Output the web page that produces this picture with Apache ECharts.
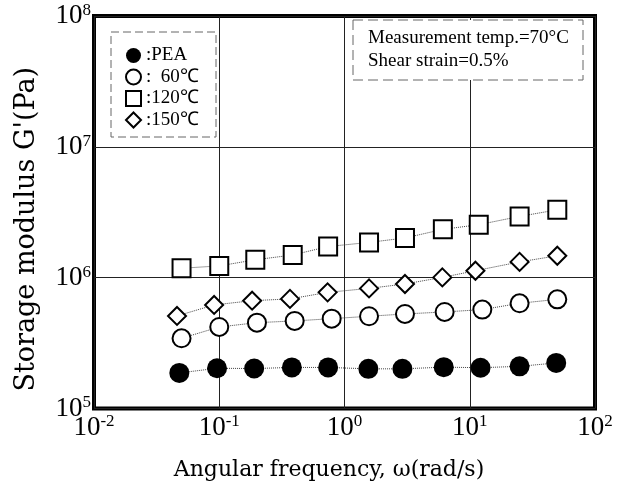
<!DOCTYPE html>
<html>
<head>
<meta charset="utf-8">
<script src="https://cdn.jsdelivr.net/npm/echarts@6/dist/echarts.min.js"></script>
<style>
html, body { margin: 0; padding: 0; background: #fff; }
#chart { width: 617px; height: 488px; }
</style>
</head>
<body>
<div id="chart"></div>
<script>
// 角频率 (rad/s) 与储能模量 G' (Pa)，各系列点位略有偏差，分开记录
const peaX = [0.048, 0.096, 0.19, 0.38, 0.74, 1.55, 2.9, 6.2, 12.2, 25, 49]
const peaY = [1.87e5, 2.03e5, 2.02e5, 2.06e5, 2.06e5, 2.01e5, 2.01e5, 2.07e5, 2.05e5, 2.10e5, 2.23e5]
const t60X = [0.05, 0.1, 0.2, 0.4, 0.79, 1.57, 3.04, 6.3, 12.6, 25, 50]
const t60Y = [3.44e5, 4.2e5, 4.53e5, 4.67e5, 4.86e5, 5.07e5, 5.28e5, 5.47e5, 5.7e5, 6.37e5, 6.83e5]
const t120X = [0.05, 0.1, 0.194, 0.386, 0.74, 1.57, 3.04, 6.1, 11.8, 25, 50]
const t120Y = [1.18e6, 1.23e6, 1.37e6, 1.49e6, 1.73e6, 1.86e6, 2.01e6, 2.34e6, 2.54e6, 2.94e6, 3.3e6]
const t150X = [0.046, 0.091, 0.183, 0.367, 0.733, 1.57, 3.04, 6.04, 11.1, 25, 50]
const t150Y = [5.1e5, 6.19e5, 6.67e5, 6.88e5, 7.72e5, 8.28e5, 8.95e5, 1.005e6, 1.13e6, 1.32e6, 1.47e6]

// 刻度标签（10 的指数）
const xExps = [-2, -1, 0, 1, 2]
const yExps = [5, 6, 7, 8]

const seriesNames = ['PEA', '60℃', '120℃', '150℃']
const noteLines = ['Measurement temp.=70°C', 'Shear strain=0.5%']

const serif = '"Liberation Serif", "Times New Roman", serif'
const wideSerif = '"DejaVu Serif", serif'

const tickRich = {
  b: { fontFamily: serif, fontSize: 27, lineHeight: 28, color: '#000' },
  s: { fontFamily: serif, fontSize: 17, lineHeight: 17, color: '#000', verticalAlign: 'top' }
}

function expLabel(exps) {
  return v => {
    const e = Math.round(Math.log10(v))
    if (!exps.includes(e)) return ''
    return '{b|10}{s|' + e + '}'
  }
}

function mk(name, xs, ys, symbol, size, fill, border) {
  return {
    name,
    type: 'line',
    data: xs.map((x, i) => [x, ys[i]]),
    symbol,
    symbolSize: size,
    showAllSymbol: true,
    itemStyle: { color: fill, borderColor: '#000', borderWidth: border, opacity: 1 },
    lineStyle: { color: '#444', width: 1, type: 'dotted' },
    emphasis: { disabled: true }
  }
}

const chart = echarts.init(document.getElementById('chart'))
chart.setOption({
  animation: false,
  backgroundColor: '#fff',
  grid: {
    left: 94, right: 22, top: 16, bottom: 79.5,
    show: true, borderColor: '#000', borderWidth: 4, backgroundColor: 'transparent',
    outerBoundsMode: 'none'
  },
  xAxis: {
    type: 'log', logBase: 10, min: 0.01, max: 100,
    name: 'Angular frequency, ω(rad/s)',
    nameLocation: 'middle', nameGap: 51,
    nameTextStyle: { fontFamily: wideSerif, fontSize: 22, color: '#000', padding: [0, 31, 0, 0] },
    axisLine: { show: false }, axisTick: { show: false },
    minorTick: { show: false }, minorSplitLine: { show: false },
    splitLine: { show: true, lineStyle: { color: '#222', width: 1 } },
    axisLabel: {
      margin: 5, showMinLabel: true, showMaxLabel: true, hideOverlap: false,
      formatter: expLabel(xExps), rich: tickRich
    }
  },
  yAxis: {
    type: 'log', logBase: 10, min: 1e5, max: 1e8,
    name: "Storage modulus G'(Pa)",
    nameLocation: 'middle', nameGap: 54,
    nameTextStyle: { fontFamily: wideSerif, fontSize: 27, color: '#000', padding: [0, 34, 0, 0] },
    axisLine: { show: false }, axisTick: { show: false },
    minorTick: { show: false }, minorSplitLine: { show: false },
    splitLine: { show: true, lineStyle: { color: '#222', width: 1 } },
    axisLabel: {
      margin: 3, showMinLabel: true, showMaxLabel: true, hideOverlap: false,
      formatter: expLabel(yExps), rich: tickRich
    }
  },
  legend: {
    orient: 'vertical', left: 125, top: 46, padding: 0,
    itemWidth: 15, itemHeight: 15, itemGap: 2.5,
    selectedMode: false,
    textStyle: { fontFamily: serif, fontSize: 19, lineHeight: 15, color: '#000' },
    formatter: n => (n === '60℃' ? ':  ' : ':') + n,
    data: [
      { name: seriesNames[0], icon: 'circle' },
      { name: seriesNames[1], icon: 'circle' },
      { name: seriesNames[2], icon: 'rect' },
      { name: seriesNames[3], icon: 'diamond' }
    ]
  },
  graphic: [
    {
      type: 'rect', silent: true, z: 10,
      shape: { x: 111, y: 32, width: 105, height: 105 },
      style: { fill: 'none', stroke: '#666', lineWidth: 1, lineDash: [8, 4] }
    },
    {
      type: 'rect', silent: true, z: 10,
      shape: { x: 353, y: 20, width: 230, height: 60 },
      style: { fill: '#fff', stroke: '#666', lineWidth: 1, lineDash: [10, 5] }
    },
    {
      type: 'text', silent: true, z: 11, left: 368, top: 27,
      style: { text: noteLines.join('\n'), font: '19px ' + serif, lineHeight: 23, fill: '#000' }
    }
  ],
  series: [
    mk(seriesNames[0], peaX, peaY, 'circle', 20, '#000', 0),
    mk(seriesNames[1], t60X, t60Y, 'circle', 18, '#fff', 2),
    mk(seriesNames[2], t120X, t120Y, 'rect', 18, '#fff', 2),
    mk(seriesNames[3], t150X, t150Y, 'diamond', 18, '#fff', 2)
  ]
})
</script>
</body>
</html>
